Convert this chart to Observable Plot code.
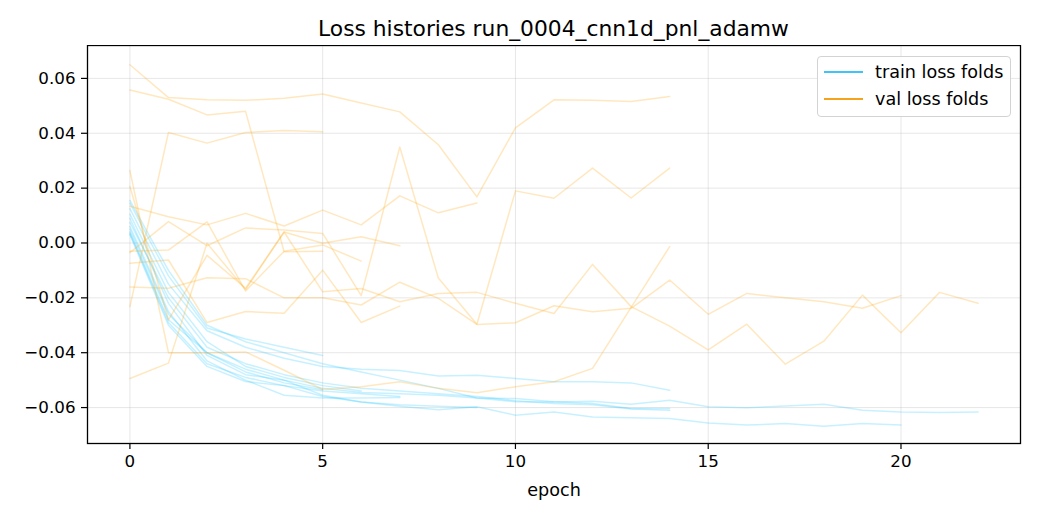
<!DOCTYPE html>
<html>
<head>
<meta charset="utf-8">
<script src="https://cdn.jsdelivr.net/npm/d3@7"></script>
<script src="https://cdn.jsdelivr.net/npm/@observablehq/plot@0.6"></script>
<style>
  html, body { margin: 0; padding: 0; background: #fff; }
  #fig { position: relative; width: 1040px; height: 520px; font-family: "DejaVu Sans", sans-serif; }
  #title { position: absolute; left: 87px; width: 933px; top: 15px; text-align: center; font-size: 21.8px; color: #000; line-height: 28px; white-space: nowrap; }
  #chart { position: absolute; left: 0; top: 45px; }
  #legend { position: absolute; left: 817px; top: 56px; width: 192px; height: 59px; border: 1px solid #d3d3d3; border-radius: 4px; background: rgba(255,255,255,0.85); box-sizing: content-box; }
  .row { position: absolute; left: 0; height: 22px; display: flex; align-items: center; font-size: 17.6px; color: #000; white-space: nowrap; }
  .sw { width: 39px; height: 0; border-top: 2px solid; margin-left: 6px; margin-right: 12px; }
</style>
</head>
<body>
<div id="fig">
  <div id="title">Loss histories run_0004_cnn1d_pnl_adamw</div>
  <div id="chart"></div>
  <div id="legend">
    <div class="row" style="top:4px"><span class="sw" id="swTrain"></span><span>train loss folds</span></div>
    <div class="row" style="top:31px"><span class="sw" id="swVal"></span><span>val loss folds</span></div>
  </div>
</div>
<script>
// ---- data ----
const seriesNames = ["train loss folds", "val loss folds"];
const xTicks = [0, 5, 10, 15, 20];
const yTicks = [-0.06, -0.04, -0.02, 0.00, 0.02, 0.04, 0.06];

const trainHistories = [
  [0.0145, -0.012, -0.031, -0.035, -0.038, -0.041],
  [0.004, -0.028, -0.040, -0.047, -0.051, -0.0535],
  [0.0105, -0.018, -0.036, -0.045, -0.049, -0.052, -0.054],
  [0.006, -0.025, -0.043, -0.050, -0.0555, -0.0565, -0.0565, -0.0563],
  [0.003, -0.030, -0.045, -0.0505, -0.052, -0.054, -0.055, -0.056],
  [0.009, -0.022, -0.041, -0.048, -0.050, -0.0555, -0.058, -0.059, -0.0595, -0.060],
  [0.0125, -0.015, -0.032, -0.038, -0.042, -0.045, -0.046, -0.0465, -0.0485, -0.0482, -0.0494, -0.0506, -0.0506, -0.051, -0.0537],
  [0.005, -0.026, -0.040, -0.046, -0.050, -0.053, -0.0545, -0.055, -0.0555, -0.0565, -0.0567, -0.0579, -0.0585, -0.0603, -0.0603],
  [0.0075, -0.020, -0.038, -0.044, -0.048, -0.051, -0.053, -0.054, -0.055, -0.056, -0.0575, -0.0585, -0.059, -0.0605, -0.061],
  [0.0035, -0.029, -0.044, -0.049, -0.052, -0.056, -0.058, -0.0595, -0.0608, -0.0597, -0.0628, -0.0616, -0.0634, -0.0637, -0.064, -0.0656, -0.0664, -0.0658, -0.0668, -0.0658, -0.0664],
  [0.0155, -0.010, -0.030, -0.036, -0.040, -0.044, -0.047, -0.050, -0.053, -0.0565, -0.0579, -0.058, -0.0577, -0.0588, -0.0573, -0.0597, -0.0601, -0.0594, -0.0588, -0.061, -0.0616, -0.0618, -0.0616]
];

const valHistories = [
  [0.0558, 0.0524, 0.0467, 0.048, -0.0032, -0.003],
  [-0.0232, 0.0403, 0.0364, 0.0403, 0.041, 0.0406],
  [-0.003, -0.0026, 0.0077, -0.0175, -0.003, -0.0007, -0.0066],
  [-0.0494, -0.0438, -0.0001, -0.017, 0.004, -0.0001, 0.0023, -0.001],
  [-0.0074, -0.0062, -0.029, -0.025, -0.0256, -0.0099, -0.029, -0.023],
  [0.0134, 0.0096, 0.0066, 0.0108, 0.0062, 0.012, 0.0066, 0.0172, 0.011, 0.0146],
  [0.065, 0.053, 0.0522, 0.052, 0.0528, 0.0543, 0.051, 0.0478, 0.0358, 0.0168, 0.042, 0.0522, 0.052, 0.0516, 0.0534],
  [-0.0035, 0.0078, -0.001, 0.0055, 0.0047, 0.0035, -0.0192, 0.035, -0.0128, -0.0296, 0.019, 0.0163, 0.0273, 0.0164, 0.0273],
  [0.0264, -0.040, -0.040, -0.0397, -0.0464, -0.0534, -0.0524, -0.0506, -0.053, -0.0546, -0.0524, -0.0506, -0.0457, -0.0235, -0.0013],
  [-0.016, -0.0165, -0.0127, -0.013, -0.020, -0.020, -0.0226, -0.0143, -0.0202, -0.0297, -0.0291, -0.0229, -0.0251, -0.0238, -0.0135, -0.026, -0.0184, -0.020, -0.0214, -0.0238, -0.0192],
  [0.0206, -0.028, -0.0045, -0.0165, 0.004, -0.0178, -0.0166, -0.0214, -0.0184, -0.018, -0.022, -0.0257, -0.0078, -0.0232, -0.0303, -0.039, -0.0296, -0.0442, -0.0358, -0.019, -0.0327, -0.018, -0.022]
];

// ---- styling ----
const trainColor = "#00bfff";
const valColor = "#ffa500";
document.getElementById("swTrain").style.borderColor = "#3fc4fa";
document.getElementById("swVal").style.borderColor = "#f5a31c";

function toRows(histories, kind) {
  const rows = [];
  histories.forEach((h, f) => h.forEach((v, i) => rows.push({fold: f, epoch: i, loss: v, kind})));
  return rows;
}
const trainRows = toRows(trainHistories, seriesNames[0]);
const valRows = toRows(valHistories, seriesNames[1]);

const chart = Plot.plot({
  width: 1040,
  height: 475,
  marginLeft: 87,
  marginRight: 20,
  marginTop: 0,
  marginBottom: 77,
  style: {fontFamily: "DejaVu Sans, sans-serif", fontSize: "16.7px", color: "#000", background: "transparent"},
  x: {domain: [-1.1, 23.1]},
  y: {domain: [-0.0731, 0.0720]},
  marks: [
    Plot.gridX(xTicks, {stroke: "#b0b0b0", strokeOpacity: 0.35, strokeWidth: 0.9}),
    Plot.gridY(yTicks, {stroke: "#b0b0b0", strokeOpacity: 0.35, strokeWidth: 0.9}),
    Plot.line(trainRows, {x: "epoch", y: "loss", z: "fold", stroke: trainColor, strokeOpacity: 0.22, strokeWidth: 1.5}),
    Plot.line(valRows, {x: "epoch", y: "loss", z: "fold", stroke: valColor, strokeOpacity: 0.25, strokeWidth: 1.5}),
    Plot.axisX(xTicks, {tickSize: 6, tickPadding: 6, strokeWidth: 1.2, tickFormat: d3.format("d"), label: null, fontSize: 16.7}),
    Plot.axisX({label: "epoch", labelAnchor: "center", labelArrow: "none", labelOffset: 52, fontSize: 17.6, ticks: []}),
    Plot.axisY(yTicks, {tickSize: 6, tickPadding: 6, strokeWidth: 1.2, tickFormat: d3.format(".2f"), label: null, fontSize: 16.7}),
    Plot.frame({stroke: "#000", strokeWidth: 1.3})
  ]
});
document.getElementById("chart").appendChild(chart);
</script>
</body>
</html>
